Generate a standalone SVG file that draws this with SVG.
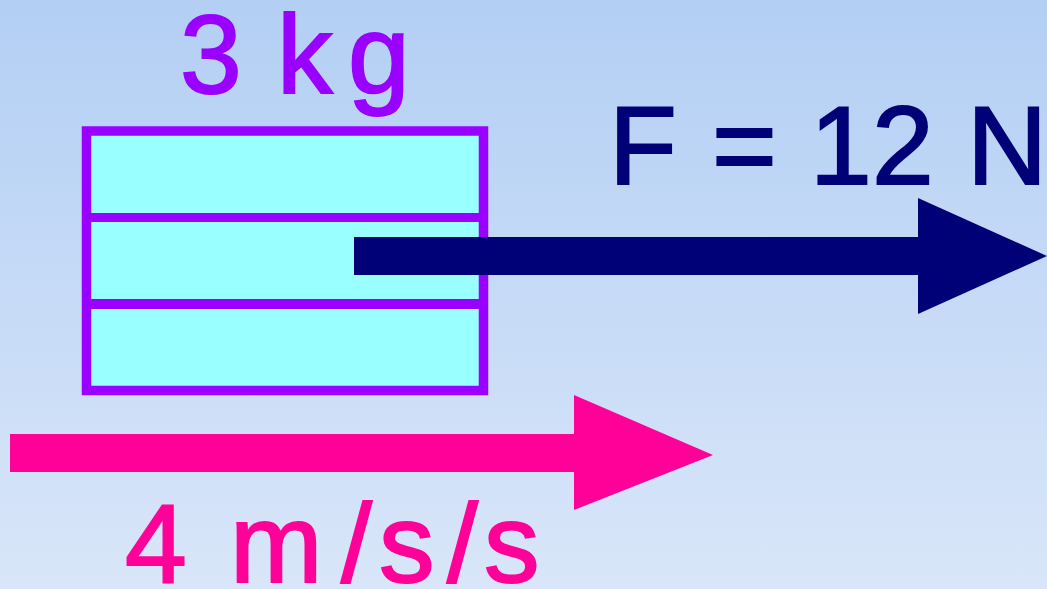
<svg xmlns="http://www.w3.org/2000/svg" width="1047" height="589" viewBox="0 0 1047 589">
  <defs>
    <linearGradient id="bg" x1="0" y1="0" x2="0" y2="1">
      <stop offset="0" stop-color="#b3cff4"/>
      <stop offset="1" stop-color="#d9e6f9"/>
    </linearGradient>
  </defs>
  <style>
    .lbl { font-family: "Liberation Sans", Arial, sans-serif; font-size: 111px; stroke-width: 2; stroke-linejoin: miter; }
    .purple { fill: #9900ff; stroke: #9900ff; }
    .navy { fill: #000077; stroke: #000077; }
    .pink { fill: #ff0099; stroke: #ff0099; }
  </style>
  <rect x="0" y="0" width="1047" height="589" fill="url(#bg)"/>

  <g id="block">
    <rect x="86.5" y="131" width="397" height="259.5" fill="#99ffff" stroke="#9900ff" stroke-width="9.5"/>
    <rect x="82" y="213" width="406" height="9" fill="#9900ff"/>
    <rect x="82" y="299" width="406" height="10" fill="#9900ff"/>
  </g>

  <g id="mass-label">
    <text class="lbl purple" x="180 240 277 348" y="93">3 kg</text>
  </g>

  <g id="force-label">
    <text class="lbl navy" x="609 680 712 780 810 872 940 967" y="184">F = 12 N</text>
  </g>

  <g id="accel-label">
    <text class="lbl pink" x="125 190 230 341 379 447 484" y="582">4 m/s/s</text>
  </g>

  <g id="connectors">
    <g id="force-arrow" fill="#000077">
      <rect x="354" y="237" width="566" height="38"/>
      <polygon points="918,198 1047,256 918,314"/>
    </g>
    <g id="accel-arrow" fill="#ff0099">
      <rect x="10" y="434" width="566" height="38"/>
      <polygon points="574,395 713,455 574,510"/>
    </g>
  </g>
</svg>
